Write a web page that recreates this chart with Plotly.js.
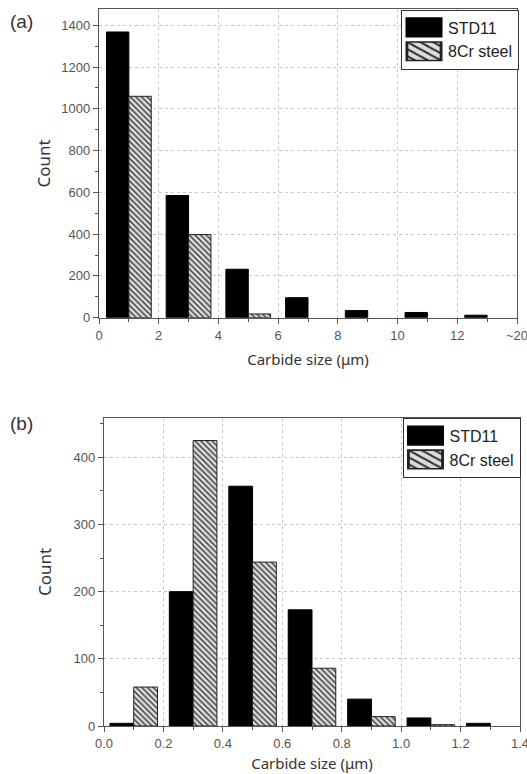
<!DOCTYPE html>
<html>
<head>
<meta charset="utf-8">
<script src="https://cdn.plot.ly/plotly-3.0.1.min.js"></script>
<style>
  html, body { margin: 0; padding: 0; background: #fff; }
  #chart { width: 527px; height: 774px; }
  /* enlarge the bar legend swatches (CSS transform replaces the centering translate) */
  .legendpoints path {
    transform-box: view-box;
    transform-origin: 0 0;
    transform: translate(22px, 0) scale(2.85, 1.55);
  }
</style>
</head>
<body>
<div id="chart"></div>
<script>
// ---- Data: (a) coarse carbide size distribution ----
const binsA = [1, 3, 5, 7, 9, 11, 13];
const std11A = [1368, 585, 232, 96, 34, 25, 12];
const cr8A = [1060, 398, 18, 0, 0, 0, 0];
const tickValsA = [0, 2, 4, 6, 8, 10, 12, 14];
const tickTextA = ['0', '2', '4', '6', '8', '10', '12', '~20'];

// ---- Data: (b) fine carbide size distribution ----
const binsB = [0.1, 0.3, 0.5, 0.7, 0.9, 1.1, 1.3];
const std11B = [4, 200, 357, 173, 40, 12, 4];
const cr8B = [58, 425, 244, 86, 14, 2, 0];
const tickValsB = [0, 0.2, 0.4, 0.6, 0.8, 1.0, 1.2, 1.4];
const tickTextB = ['0.0', '0.2', '0.4', '0.6', '0.8', '1.0', '1.2', '1.4'];

const names = ['STD11', '8Cr steel'];

const W = 527, H = 774;
const hatch = { shape: '\\', fgcolor: '#2a2a2a', bgcolor: '#dcdcdc', size: 4, solidity: 0.32 };
// no outline for empty bins
const lw = arr => arr.map(v => (v > 0 ? 1 : 0));

const traces = [
  { type: 'bar', x: binsA, y: std11A, name: names[0], xaxis: 'x', yaxis: 'y', legend: 'legend',
    width: 0.75, offset: -0.75, marker: { color: '#000', line: { color: '#000', width: lw(std11A) } } },
  { type: 'bar', x: binsA, y: cr8A, name: names[1], xaxis: 'x', yaxis: 'y', legend: 'legend',
    width: 0.75, offset: 0, marker: { color: '#dcdcdc', pattern: hatch, line: { color: '#222', width: lw(cr8A) } } },
  { type: 'bar', x: binsB, y: std11B, name: names[0], xaxis: 'x2', yaxis: 'y2', legend: 'legend2',
    width: 0.08, offset: -0.08, marker: { color: '#000', line: { color: '#000', width: lw(std11B) } } },
  { type: 'bar', x: binsB, y: cr8B, name: names[1], xaxis: 'x2', yaxis: 'y2', legend: 'legend2',
    width: 0.08, offset: 0, marker: { color: '#dcdcdc', pattern: hatch, line: { color: '#222', width: lw(cr8B) } } }
];

const tickFont = { family: 'Liberation Sans, Arial, sans-serif', size: 13, color: '#555' };
const titleFont = { family: 'Noto Sans, DejaVu Sans, sans-serif', size: 15, color: '#333' };
const yTitleFont = { family: 'Noto Sans, DejaVu Sans, sans-serif', size: 17, color: '#333' };

function axisBase() {
  return {
    showline: true, linecolor: '#555', linewidth: 1.2, mirror: true,
    ticks: 'outside', ticklen: 5, tickcolor: '#555', tickwidth: 1,
    showgrid: true, gridcolor: '#c8c8c8', griddash: 'dot', gridwidth: 1,
    zeroline: false, tickfont: tickFont, fixedrange: true,
    ticklabeloverflow: 'allow'
  };
}

const xA = Object.assign(axisBase(), {
  domain: [99 / W, 517 / W], range: [0, 14], anchor: 'y',
  tickmode: 'array', tickvals: tickValsA, ticktext: tickTextA,
  minor: { tickvals: [1, 3, 5, 7, 9, 11, 13], ticks: 'outside', ticklen: 3, tickcolor: '#555', showgrid: false },
  title: { text: 'Carbide size (\u03bcm)', font: titleFont, standoff: 13 }
});
const yA = Object.assign(axisBase(), {
  domain: [1 - 317.7 / H, 1 - 9 / H], range: [0, 1478], anchor: 'x',
  tickmode: 'array', tickvals: [0, 200, 400, 600, 800, 1000, 1200, 1400],
  minor: { dtick: 100, ticks: 'outside', ticklen: 3, tickcolor: '#555', showgrid: false },
  title: { text: 'Count', font: yTitleFont, standoff: 6 }
});
const xB = Object.assign(axisBase(), {
  domain: [104 / W, 520 / W], range: [0, 1.4], anchor: 'y2',
  tickmode: 'array', tickvals: tickValsB, ticktext: tickTextB,
  minor: { dtick: 0.1, ticks: 'outside', ticklen: 3, tickcolor: '#555', showgrid: false },
  title: { text: 'Carbide size (\u03bcm)', font: titleFont, standoff: 8 }
});
const yB = Object.assign(axisBase(), {
  domain: [1 - 726 / H, 1 - 417.7 / H], range: [0, 459], anchor: 'x2',
  tickmode: 'array', tickvals: [0, 100, 200, 300, 400],
  minor: { dtick: 50, ticks: 'outside', ticklen: 3, tickcolor: '#555', showgrid: false },
  title: { text: 'Count', font: yTitleFont, standoff: 17 }
});

const legendBase = {
  bgcolor: '#fff', bordercolor: '#333', borderwidth: 1,
  font: { family: 'Liberation Sans, Arial, sans-serif', size: 16, color: '#222' },
  itemwidth: 36, tracegroupgap: 0, traceorder: 'normal',
  xanchor: 'right', yanchor: 'top', xref: 'paper', yref: 'paper'
};

const layout = {
  width: W, height: H,
  margin: { l: 0, r: 0, t: 0, b: 0 },
  paper_bgcolor: '#fff', plot_bgcolor: '#fff',
  barmode: 'overlay',
  showlegend: true,
  xaxis: xA, yaxis: yA, xaxis2: xB, yaxis2: yB,
  legend: Object.assign({}, legendBase, { x: 519 / W, y: 1 - 9.5 / H }),
  legend2: Object.assign({}, legendBase, { x: 520.5 / W, y: 1 - 417.7 / H }),
  annotations: [
    { text: '(a)', xref: 'paper', yref: 'paper', x: 8 / W, y: 1 - 22 / H, xanchor: 'left', yanchor: 'middle',
      showarrow: false, font: { family: 'Liberation Sans, Arial, sans-serif', size: 19, color: '#333' } },
    { text: '(b)', xref: 'paper', yref: 'paper', x: 8 / W, y: 1 - 423 / H, xanchor: 'left', yanchor: 'middle',
      showarrow: false, font: { family: 'Liberation Sans, Arial, sans-serif', size: 19, color: '#333' } }
  ]
};

Plotly.newPlot('chart', traces, layout, { displayModeBar: false, staticPlot: true });
</script>
</body>
</html>
